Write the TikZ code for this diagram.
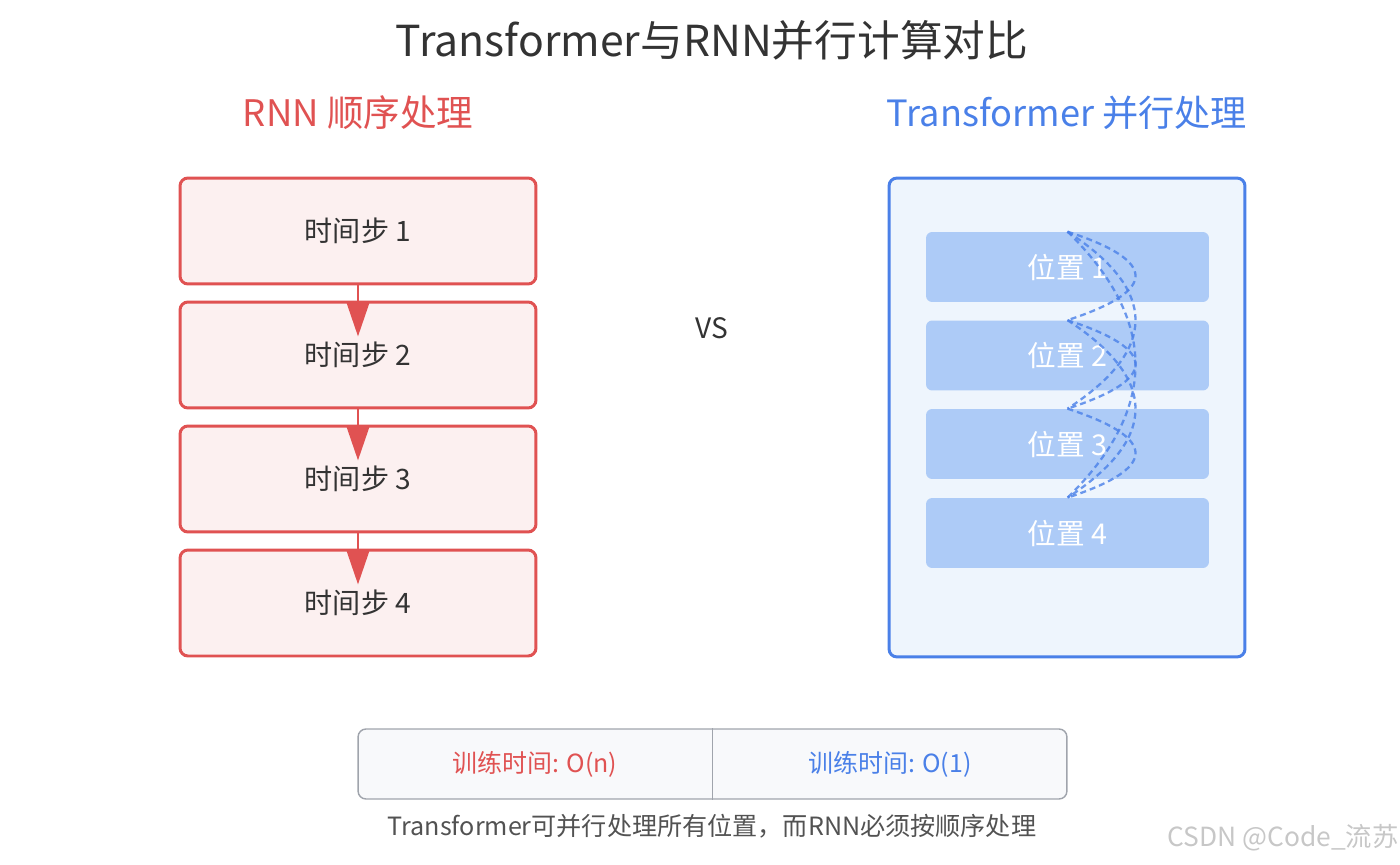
\documentclass[tikz,border=0pt]{standalone}
\usepackage{fontspec}
\setmainfont{Noto Sans CJK SC}
\usepackage{xcolor}
\usetikzlibrary{arrows.meta,calc}
\definecolor{rnnred}{HTML}{E05252}
\definecolor{rnnfill}{HTML}{FCF0F0}
\definecolor{trblue}{HTML}{4A80E8}
\definecolor{trfill}{HTML}{EEF5FD}
\definecolor{posfill}{HTML}{ADCBF7}
\definecolor{darktxt}{HTML}{333333}
\definecolor{cmpfill}{HTML}{F8F9FB}
\definecolor{cmpline}{HTML}{A0A4AC}
\newcommand{\px}[1]{\fontsize{#1}{#1}\selectfont}

\begin{document}
\begin{tikzpicture}[
  x=0.02cm,y=-0.02cm,
  every node/.style={text=darktxt},
  stepbox/.style={draw=rnnred,line width=1.7pt,fill=rnnfill,rounded corners=4.5pt,
    minimum width=7.12cm,minimum height=2.12cm,inner sep=0pt,font=\px{16pt}},
  posbox/.style={fill=posfill,rounded corners=3.5pt,minimum width=5.66cm,
    minimum height=1.4cm,inner sep=0pt,text=white,font=\px{16.3pt}},
  arr/.style={-{Triangle[length=0.7cm,width=0.46cm]},draw=rnnred,line width=1.7pt},
  link/.style={draw=trblue,line width=1.3pt,dash pattern=on 3.4pt off 2.3pt,opacity=0.8}
]
\useasboundingbox (0,0) rectangle (1400,865);
\node[font=\px{24.3pt}] (title) at (712,40) {Transformer与RNN并行计算对比};
\node[font=\px{20.8pt},text=rnnred] (rnnhead) at (358,113) {RNN 顺序处理};
\node[font=\px{20.6pt},text=trblue] (trhead) at (1067,113) {Transformer 并行处理};

% RNN side
\foreach \i/\y in {1/231,2/355,3/479,4/603}
  \node[stepbox] (r\i) at (358,\y) {时间步 \i};
\foreach \i/\j in {1/2,2/3,3/4}
  \draw[arr] (r\i.south) -- ([yshift=-0.72cm]r\j.north);

\node[font=\px{16pt}] (vs) at (712,328) {VS};

% Transformer side
\node[draw=trblue,line width=1.7pt,fill=trfill,rounded corners=4.5pt,
  minimum width=7.12cm,minimum height=9.58cm] (tr) at (1067,417.5) {};
\foreach \i/\y in {1/267,2/355.5,3/444,4/533}
  \node[posbox] (p\i) at (1067.5,\y) {位置 \i};
\foreach \a/\b in {1/2,1/3,1/4,2/3,2/4,3/4}
  \draw[link] (p\a.north) .. controls ($(p\a.north)!1/3!(p\b.north)+(90.7,0)$)
    and ($(p\a.north)!2/3!(p\b.north)+(90.7,0)$) .. (p\b.north);

% comparison
\node[draw=cmpline,line width=0.8pt,fill=cmpfill,rounded corners=4.5pt,
  minimum width=14.18cm,minimum height=1.4cm] (cmp) at (712.5,764) {};
\draw[cmpline,line width=0.8pt] (cmp.north) -- (cmp.south);
\node[font=\px{14.2pt},text=rnnred] (trnn) at (535,764) {训练时间: O(n)};
\node[font=\px{14.2pt},text=trblue] (ttr) at (890,764) {训练时间: O(1)};
\node[font=\px{14.3pt},text=darktxt!85] (note) at (712,826) {Transformer可并行处理所有位置，而RNN必须按顺序处理};
\node[font=\px{15pt},text=black!22] (mark) at (1283,838) {CSDN @Code\_流苏};
\end{tikzpicture}
\end{document}
